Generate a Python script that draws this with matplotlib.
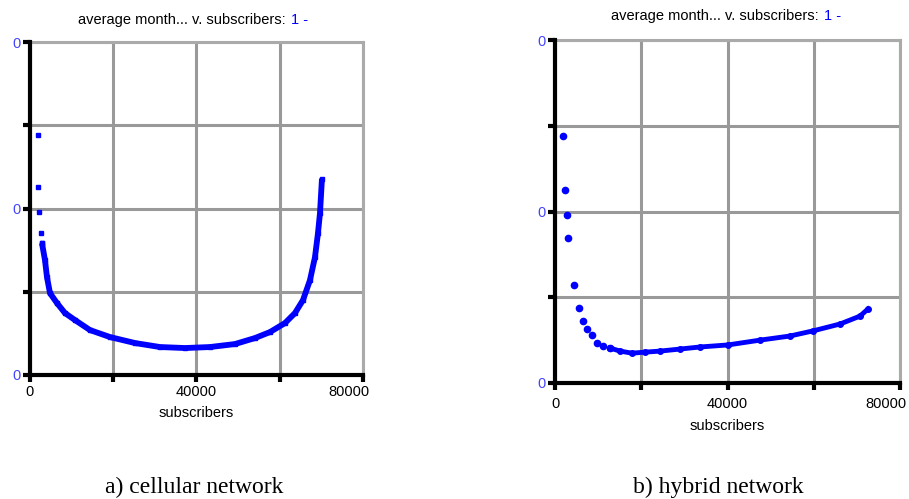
import numpy as np
import matplotlib
matplotlib.use("Agg")
import matplotlib.pyplot as plt
from matplotlib.transforms import ScaledTranslation

plt.rcParams['font.family'] = ['Liberation Sans', 'DejaVu Sans']

# a) cellular network (y is relative: 0 = bottom, 1 = top of axis)
cell_x = [1850, 2040, 2160, 2640, 2880, 3600, 4080, 4800, 6490, 8410, 10810,
          14410, 19220, 25230, 31230, 37240, 43240, 49250, 54050, 57660,
          61260, 63660, 65590, 67270, 68470, 69190, 69670, 70150]
cell_y = [0.72, 0.565, 0.49, 0.426, 0.396, 0.345, 0.294, 0.246, 0.216, 0.186,
          0.165, 0.135, 0.114, 0.096, 0.084, 0.081, 0.084, 0.093, 0.111,
          0.129, 0.156, 0.186, 0.225, 0.285, 0.354, 0.426, 0.486, 0.59]

# b) hybrid network
hyb_x = [1855, 2320, 2780, 3010, 4400, 5570, 6490, 7420, 8580, 9740, 11130,
         12750, 15070, 17860, 20870, 24350, 28990, 33620, 40120, 47540,
         54490, 59830, 66090, 70720, 72580]
hyb_y = [0.72, 0.563, 0.49, 0.423, 0.286, 0.219, 0.181, 0.157, 0.14, 0.117,
         0.108, 0.102, 0.093, 0.087, 0.090, 0.093, 0.099, 0.105, 0.111, 0.125,
         0.137, 0.152, 0.172, 0.195, 0.216]

title_black = "average month... v. subscribers: "
title_blue = "1 -"
captions = ["a) cellular network", "b) hybrid network"]
x_ticks = [0, 20000, 40000, 60000, 80000]
x_labels = ["0", "", "40000", "", "80000"]
y_ticks = [0, 0.25, 0.5, 0.75, 1]
y_labels = ["0", "", "0", "", "0"]

fig = plt.figure(figsize=(9.09, 4.99), dpi=100)
ax1 = fig.add_axes([0.0330, 0.2485, 0.3663, 0.667])
ax2 = fig.add_axes([0.6106, 0.2325, 0.3795, 0.687])

blue = '#0000ff'


def style(ax, tickpad, labelpad):
    ax.set_xlim(0, 80000)
    ax.set_ylim(0, 1)
    ax.set_xticks(x_ticks)
    ax.set_xticklabels(x_labels)
    ax.set_yticks(y_ticks)
    ax.set_yticklabels(y_labels, color='#4444ff')
    ax.grid(True, color='#999999', lw=2.2)
    for s in ['top', 'right']:
        ax.spines[s].set_color('#aaaaaa')
        ax.spines[s].set_linewidth(2.2)
    for s in ['left', 'bottom']:
        ax.spines[s].set_linewidth(3)
        ax.spines[s].set_zorder(5)
    ax.tick_params(axis='both', length=5, width=3, labelsize=10.5, pad=2)
    ax.tick_params(axis='x', pad=tickpad)
    ax.set_xlabel('subscribers', fontsize=10.5, labelpad=labelpad)
    ax.set_axisbelow(True)
    # last x label sits a bit left of its tick
    lab = ax.get_xticklabels()[-1]
    lab.set_transform(lab.get_transform() + ScaledTranslation(-0.14, 0, fig.dpi_scale_trans))


style(ax1, 2, 5)
style(ax2, 5, 6)

# cellular: discrete points first, then dense blocky curve
ax1.plot(cell_x[:5], cell_y[:5], ls='none', marker='s', ms=3.5, color=blue)
ax1.plot(cell_x[4:], cell_y[4:], ls='-', lw=4.2, color=blue,
         solid_capstyle='butt', marker='s', ms=3.5, clip_on=False)

# hybrid: dots
ax2.plot(hyb_x[:12], hyb_y[:12], ls='none', marker='o', ms=4.5, color=blue)
ax2.plot(hyb_x[11:], hyb_y[11:], ls='-', lw=3.5, color=blue, marker='o', ms=4)

# titles with blue suffix
fig.text(290 / 909, 1 - 20 / 499, title_black, ha='right', va='center', fontsize=10.5)
fig.text(291 / 909, 1 - 20 / 499, title_blue, ha='left', va='center', fontsize=10.5, color=blue)
fig.text(823 / 909, 1 - 16 / 499, title_black, ha='right', va='center', fontsize=10.5)
fig.text(824 / 909, 1 - 16 / 499, title_blue, ha='left', va='center', fontsize=10.5, color=blue)

fig.text(194 / 909, 1 - 487 / 499, captions[0], ha='center', va='center',
         fontsize=17, family='Liberation Serif')
fig.text(718 / 909, 1 - 487 / 499, captions[1], ha='center', va='center',
         fontsize=17, family='Liberation Serif')

fig.savefig('out.png', dpi=100)
